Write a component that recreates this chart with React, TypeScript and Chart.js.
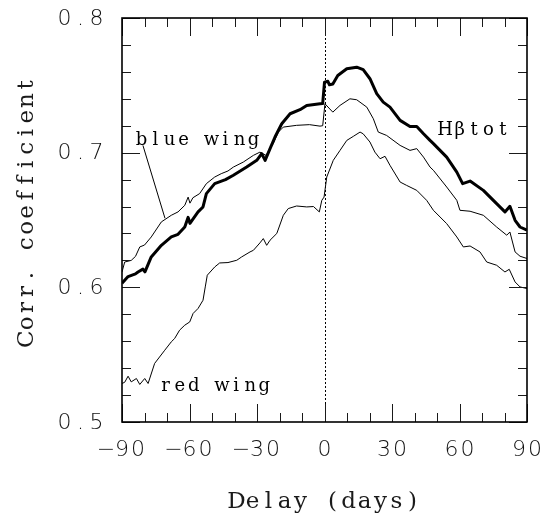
import React, { useEffect, useRef } from "react";
import { Chart, registerables } from "chart.js";

Chart.register(...registerables);

// Cross-correlation of the Hβ light curves with the continuum
const hbLag = [-90, -87.3, -84, -82.9, -80.7, -79.8, -77, -72.5, -68.1, -65.1, -62.1, -60.6, -59.8, -56.2, -54, -52.5, -48.8, -44, -40.5, -34.6, -30.1, -27.9, -26.4, -24.2, -22, -19, -15.3, -10.9, -7.9, -2, -0.8, 0, 1.5, 2.2, 3.7, 5.9, 9.9, 14.3, 17.2, 20.2, 23.2, 26.1, 29.1, 33.6, 38, 41, 44, 46.9, 48.4, 54.3, 58.8, 61.4, 64.7, 70.6, 76.5, 80.2, 82.4, 84.7, 86.9, 90];
const hbCorr = [0.603, 0.608, 0.61, 0.6114, 0.6135, 0.6115, 0.6226, 0.6312, 0.6374, 0.6394, 0.6448, 0.652, 0.6475, 0.656, 0.6597, 0.6696, 0.677, 0.68, 0.6832, 0.6893, 0.6943, 0.6993, 0.6943, 0.703, 0.7116, 0.7215, 0.7289, 0.7319, 0.7351, 0.7363, 0.7365, 0.7524, 0.753, 0.7504, 0.751, 0.7573, 0.7623, 0.7635, 0.7616, 0.7549, 0.7438, 0.7375, 0.7338, 0.724, 0.7195, 0.7195, 0.714, 0.7091, 0.7067, 0.6967, 0.6856, 0.677, 0.6789, 0.672, 0.6622, 0.656, 0.6602, 0.6498, 0.6448, 0.6424];

const blueLag = [-90, -88.8, -85.9, -84, -82.1, -80, -77, -72.5, -68.1, -65.1, -62.1, -60.6, -59.8, -58.5, -55.5, -52.5, -48.8, -45.9, -42.9, -40.5, -36.1, -31.6, -28.7, -26, -22.8, -20.5, -18.3, -12.4, -6.7, -2, -0.8, 0.2, 3.7, 6.9, 11.3, 14.3, 18.8, 21.7, 23.9, 27.6, 33.6, 38, 41, 44, 46.9, 48.4, 54.3, 58.8, 60.2, 64.7, 70.6, 76.5, 81, 82.4, 84.7, 86.9, 90];
const blueCorr = [0.6114, 0.6188, 0.62, 0.623, 0.63, 0.6314, 0.6374, 0.6486, 0.6535, 0.656, 0.6609, 0.667, 0.6625, 0.6665, 0.6696, 0.677, 0.6819, 0.6844, 0.6864, 0.6893, 0.693, 0.698, 0.7004, 0.698, 0.7067, 0.7153, 0.719, 0.7203, 0.7208, 0.7197, 0.72, 0.7363, 0.7301, 0.7351, 0.74, 0.7393, 0.7338, 0.7252, 0.7153, 0.7128, 0.7054, 0.7017, 0.703, 0.6967, 0.6893, 0.6869, 0.6745, 0.6646, 0.6572, 0.6565, 0.6535, 0.6448, 0.6387, 0.6411, 0.6263, 0.6231, 0.6214];

const redLag = [-90, -88.8, -87.3, -85.9, -83.6, -82.1, -79.9, -78.4, -75.5, -71, -68.1, -66.6, -64.4, -62.1, -59.9, -58.4, -56.2, -54, -53, -52.1, -48.8, -46.6, -42.9, -39, -36.8, -33.1, -31.6, -28.7, -27.2, -25.7, -24.2, -21.2, -18.3, -16.1, -12.4, -7.9, -4.9, -2.3, -1.2, -0.2, 1, 3.9, 6.9, 9.9, 12.8, 15.8, 17.2, 20.2, 22.4, 24.7, 26.9, 29.1, 33.6, 36.5, 41, 45.4, 48.4, 54.3, 58.8, 61.7, 64.7, 69.1, 72.1, 76.5, 80.2, 82.1, 84.7, 86.9, 90];
const redCorr = [0.5286, 0.5295, 0.534, 0.5298, 0.5323, 0.5279, 0.5323, 0.5286, 0.5435, 0.5533, 0.5595, 0.562, 0.5682, 0.5719, 0.5743, 0.5806, 0.5843, 0.5904, 0.6003, 0.609, 0.6151, 0.6181, 0.6184, 0.6201, 0.6226, 0.6263, 0.6275, 0.633, 0.6362, 0.6312, 0.635, 0.64, 0.6535, 0.6585, 0.6604, 0.6597, 0.66, 0.656, 0.6646, 0.667, 0.6819, 0.6943, 0.7017, 0.7091, 0.7121, 0.7153, 0.714, 0.7079, 0.7004, 0.6955, 0.6973, 0.6906, 0.6782, 0.6757, 0.672, 0.6646, 0.6572, 0.6473, 0.6374, 0.63, 0.6307, 0.6263, 0.6188, 0.6164, 0.6114, 0.6134, 0.604, 0.6003, 0.5991];

// Axis ticks and labels
const xMajor = [-90, -60, -30, 0, 30, 60, 90];
const xMinorStep = 10;
const yMajor = [0.5, 0.6, 0.7, 0.8];
const yMinorStep = 0.02;
const xTickLabels = ["\u221290", "\u221260", "\u221230", "0", "30", "60", "90"];
const yTickLabels = ["0.5", "0.6", "0.7", "0.8"];

const xTitle = "Delay (days)";
const yTitle = "Corr. coefficient";

// Leader line from the "blue wing" label to its curve
const leaderFrom = { x: -80.7, y: 0.7054 };
const leaderTo = { x: -70.9, y: 0.6513 };

const pts = (xs: number[], ys: number[]) => xs.map((x, i) => ({ x, y: ys[i] }));

// Draws text with a fixed advance per character
function drawCells(ctx: CanvasRenderingContext2D, text: string, cx: number, y: number, cell: number) {
  const chars = Array.from(text);
  const start = cx - (chars.length * cell) / 2;
  ctx.textAlign = "center";
  chars.forEach((ch, i) => ctx.fillText(ch, start + cell * (i + 0.5), y));
}

const framePlugin = {
  id: "frame",
  afterDatasetsDraw(chart: any) {
    const { ctx, chartArea: a, scales } = chart;
    const xs = scales.x;
    const ys = scales.y;
    ctx.save();

    // zero-delay marker
    ctx.strokeStyle = "#000";
    ctx.lineWidth = 1;
    ctx.setLineDash([2, 2]);
    const x0 = Math.round(xs.getPixelForValue(0)) + 0.5;
    ctx.beginPath();
    ctx.moveTo(x0, a.top);
    ctx.lineTo(x0, a.bottom);
    ctx.stroke();
    ctx.setLineDash([]);

    // inward ticks on all four sides
    ctx.strokeStyle = "#1a1a1a";
    ctx.lineWidth = 1;
    ctx.beginPath();
    for (let v = -90; v <= 90 + 1e-9; v += xMinorStep) {
      const major = xMajor.some((m) => Math.abs(m - v) < 1e-6);
      const len = major ? 18 : 9;
      const px = Math.round(xs.getPixelForValue(v)) + 0.5;
      ctx.moveTo(px, a.bottom);
      ctx.lineTo(px, a.bottom - len);
      ctx.moveTo(px, a.top);
      ctx.lineTo(px, a.top + len);
    }
    for (let k = 0; k <= 15; k++) {
      const v = 0.5 + k * yMinorStep;
      const major = yMajor.some((m) => Math.abs(m - v) < 1e-6);
      const len = major ? 18 : 9;
      const py = Math.round(ys.getPixelForValue(v)) + 0.5;
      ctx.moveTo(a.left, py);
      ctx.lineTo(a.left + len, py);
      ctx.moveTo(a.right, py);
      ctx.lineTo(a.right - len, py);
    }
    ctx.stroke();

    // frame
    ctx.strokeStyle = "#000";
    ctx.lineWidth = 1.6;
    ctx.strokeRect(a.left, a.top, a.right - a.left, a.bottom - a.top);

    // tick labels
    ctx.fillStyle = "#111";
    ctx.font = '200 22px "DejaVu Sans", sans-serif';
    ctx.textBaseline = "middle";
    xMajor.forEach((v, i) => drawCells(ctx, xTickLabels[i], xs.getPixelForValue(v), 450, 16));
    yMajor.forEach((v, i) => drawCells(ctx, yTickLabels[i], 80.5, ys.getPixelForValue(v) + 1, 16));

    // axis titles
    ctx.fillStyle = "#1a1a1a";
    ctx.font = '23px "DejaVu Serif", serif';
    ctx.textBaseline = "alphabetic";
    drawCells(ctx, xTitle, (a.left + a.right) / 2, 508, 16);
    ctx.save();
    ctx.translate(33, 212);
    ctx.rotate(-Math.PI / 2);
    drawCells(ctx, yTitle, 0, 0, 15.9);
    ctx.restore();

    // curve labels
    ctx.fillStyle = "#000";
    ctx.font = '18px "DejaVu Serif", serif';
    drawCells(ctx, "blue wing", 197.5, 145, 14);
    drawCells(ctx, "H\u03b2tot", 474, 135, 14.4);
    drawCells(ctx, "red wing", 215, 391, 14.1);

    ctx.lineWidth = 1;
    ctx.beginPath();
    ctx.moveTo(xs.getPixelForValue(leaderFrom.x), ys.getPixelForValue(leaderFrom.y));
    ctx.lineTo(xs.getPixelForValue(leaderTo.x), ys.getPixelForValue(leaderTo.y));
    ctx.stroke();

    ctx.restore();
  },
};

export default function App() {
  const ref = useRef<HTMLCanvasElement | null>(null);

  useEffect(() => {
    if (!ref.current) return;
    const chart = new Chart(ref.current, {
      type: "line",
      data: {
        datasets: [
          { label: "Hβ tot", data: pts(hbLag, hbCorr), borderColor: "#000", borderWidth: 3 },
          { label: "blue wing", data: pts(blueLag, blueCorr), borderColor: "#000", borderWidth: 1 },
          { label: "red wing", data: pts(redLag, redCorr), borderColor: "#000", borderWidth: 1 },
        ],
      },
      options: {
        responsive: false,
        animation: false,
        devicePixelRatio: 1,
        layout: { padding: { left: 122, right: 26, top: 18, bottom: 97 }, autoPadding: false },
        elements: { point: { radius: 0 }, line: { tension: 0, borderJoinStyle: "round" } },
        plugins: { legend: { display: false }, tooltip: { enabled: false } },
        scales: {
          x: { type: "linear", min: -90, max: 90, display: false },
          y: { type: "linear", min: 0.5, max: 0.8, display: false },
        },
      },
      plugins: [framePlugin],
    });
    return () => chart.destroy();
  }, []);

  return (
    <div style={{ position: "fixed", left: 0, top: 0, width: 553, height: 519, background: "#fff" }}>
      <canvas ref={ref} width={553} height={519} style={{ display: "block" }} />
    </div>
  );
}
